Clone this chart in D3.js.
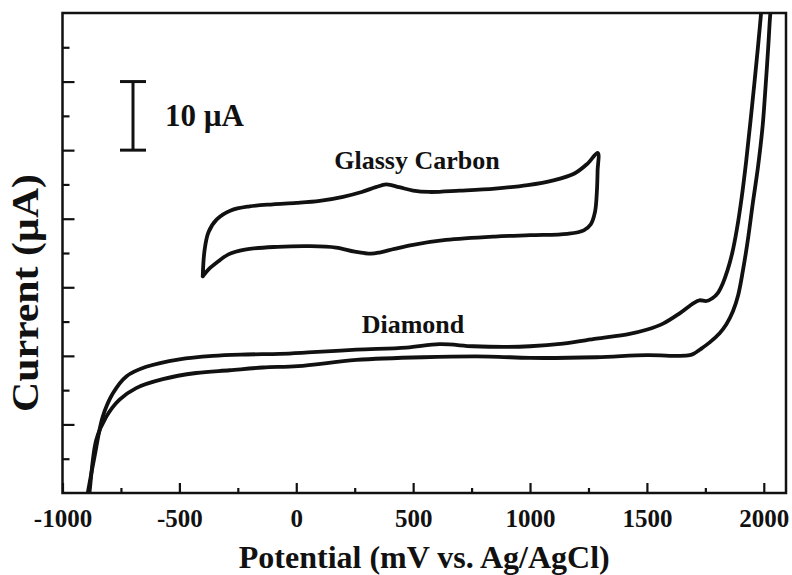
<!DOCTYPE html>
<html>
<head>
<meta charset="utf-8">
<script src="https://cdn.jsdelivr.net/npm/d3@7"></script>
<style>
  html, body { margin: 0; padding: 0; background: #fff; }
  svg { display: block; }
  text { font-family: "Liberation Serif", "Times New Roman", serif; font-weight: bold; fill: #111; }
</style>
</head>
<body>
<svg id="chart" width="792" height="575"></svg>
<script>
// Cyclic voltammograms: potential in mV vs. Ag/AgCl, current in µA (offset baseline)

// Glassy carbon: positive-going sweep, then the return sweep
const glassyForward = [
  [-400, 31.6], [-393, 35.2], [-376, 38.0], [-340, 39.9], [-280, 41.2], [-200, 41.8],
  [-100, 42.1], [0, 42.3], [100, 42.6], [200, 43.2], [280, 43.9], [340, 44.6],
  [385, 45.0], [440, 44.6], [500, 44.1], [570, 43.9], [700, 44.1], [850, 44.4],
  [990, 44.9], [1100, 45.6], [1190, 46.6], [1245, 48.0], [1290, 49.6]
];
const glassyReverse = [
  [1290, 49.6], [1289, 47.0], [1286, 44.0], [1278, 41.0], [1260, 39.2], [1230, 38.3],
  [1160, 37.8], [1000, 37.6], [850, 37.4], [640, 36.9], [500, 36.2], [420, 35.6],
  [360, 35.1], [320, 34.9], [250, 35.2], [170, 35.8], [60, 36.0], [-80, 35.9],
  [-220, 35.5], [-290, 34.8], [-340, 33.6], [-375, 32.6], [-400, 31.6]
];

// Boron-doped diamond: wide window, off-scale at both ends
const diamondForward = [
  [-897, -1], [-892, 0], [-863, 5.3], [-828, 11.1], [-785, 14.5], [-727, 17.0],
  [-642, 18.4], [-500, 19.5], [-357, 20.0], [-214, 20.2], [-71, 20.3], [50, 20.5],
  [257, 20.9], [471, 21.2], [613, 21.7], [756, 21.4], [900, 21.3], [1000, 21.4],
  [1141, 21.8], [1284, 22.5], [1426, 23.2], [1498, 23.8], [1569, 24.7], [1640, 26.2],
  [1700, 27.7], [1725, 28.1], [1755, 28.0], [1780, 28.4], [1804, 29.2], [1825, 30.6],
  [1845, 32.5], [1865, 35.0], [1885, 38.5], [1905, 43.0], [1925, 48.5], [1950, 56.5],
  [1975, 65.0], [1995, 72.5]
];
const diamondReverse = [
  [2035, 72.5], [2028, 70.0], [2018, 64.5], [2005, 58.0], [1995, 53.5], [1975, 47.5],
  [1954, 42.5], [1930, 36.5], [1911, 32.5], [1890, 28.8], [1868, 26.5], [1840, 24.6],
  [1811, 23.3], [1770, 22.0], [1726, 20.9], [1700, 20.3], [1683, 20.1], [1640, 20.0],
  [1500, 20.1], [1284, 19.8], [1000, 19.7], [827, 19.9], [542, 19.8], [257, 19.4],
  [7, 18.5], [-143, 18.3], [-285, 17.9], [-428, 17.5], [-571, 16.6], [-685, 15.3],
  [-756, 13.6], [-813, 11.1], [-856, 7.7], [-885, 0], [-890, -1]
];

const xMajorTicks = [-1000, -500, 0, 500, 1000, 1500, 2000];
const xMinorTicks = [-750, -250, 250, 750, 1250, 1750];
const yMajorTicks = [10, 20, 30, 40, 50, 60];
const yMinorTicks = [5, 15, 25, 35, 45, 55, 65];
const scaleBar = [50, 60];           // 10 µA reference bar
const scaleBarLabel = "10 µA";
const xTitle = "Potential (mV vs. Ag/AgCl)";
const yTitle = "Current (µA)";

const svg = d3.select("#chart");
const plot = { left: 62.5, right: 786, top: 13, bottom: 493 };

const x = d3.scaleLinear().domain([-1000, 2095]).range([plot.left, plot.right]);
const y = d3.scaleLinear().domain([0, 70]).range([plot.bottom, plot.top]);

svg.append("defs").append("clipPath").attr("id", "clip")
  .append("rect")
  .attr("x", plot.left).attr("y", plot.top)
  .attr("width", plot.right - plot.left).attr("height", plot.bottom - plot.top);

const ink = "#111";

// Axes with inward ticks
function styleAxis(g) {
  g.select(".domain").remove();
  g.selectAll("line").attr("stroke", ink).attr("stroke-width", 2.2);
  g.selectAll("text").attr("font-family", null).attr("fill", ink);
}

svg.append("g")
  .attr("transform", `translate(0,${plot.bottom})`)
  .call(d3.axisBottom(x).tickValues(xMajorTicks).tickSize(-10).tickPadding(16)
    .tickFormat(d => String(d)))
  .call(styleAxis)
  .call(g => g.selectAll("text").attr("font-size", 25).style("font-size", "25px"));

svg.append("g")
  .attr("transform", `translate(0,${plot.bottom})`)
  .call(d3.axisBottom(x).tickValues(xMinorTicks).tickSize(-5).tickFormat(""))
  .call(styleAxis);

svg.append("g")
  .attr("transform", `translate(${plot.left},0)`)
  .call(d3.axisLeft(y).tickValues(yMajorTicks).tickSize(-12).tickFormat(""))
  .call(styleAxis);

svg.append("g")
  .attr("transform", `translate(${plot.left},0)`)
  .call(d3.axisLeft(y).tickValues(yMinorTicks).tickSize(-7).tickFormat(""))
  .call(styleAxis);

// Frame
svg.append("rect")
  .attr("x", plot.left).attr("y", plot.top)
  .attr("width", plot.right - plot.left).attr("height", plot.bottom - plot.top)
  .attr("fill", "none").attr("stroke", ink).attr("stroke-width", 2.5);

// Curves
const line = d3.line()
  .x(d => x(d[0])).y(d => y(d[1]))
  .curve(d3.curveCatmullRom.alpha(0.5));

const curves = svg.append("g").attr("clip-path", "url(#clip)")
  .attr("fill", "none").attr("stroke", ink)
  .attr("stroke-width", 3.8).attr("stroke-linejoin", "round").attr("stroke-linecap", "round");

curves.append("path").attr("d", line(glassyForward.concat(glassyReverse.slice(1))));
curves.append("path").attr("d", line(diamondForward));
curves.append("path").attr("d", line(diamondReverse));

// Scale bar
const barX = 133;
const bar = svg.append("g").attr("stroke", ink).attr("stroke-width", 3);
bar.append("line").attr("x1", barX).attr("x2", barX)
  .attr("y1", y(scaleBar[0])).attr("y2", y(scaleBar[1]));
bar.append("line").attr("x1", barX - 13).attr("x2", barX + 13)
  .attr("y1", y(scaleBar[0])).attr("y2", y(scaleBar[0]));
bar.append("line").attr("x1", barX - 13).attr("x2", barX + 13)
  .attr("y1", y(scaleBar[1])).attr("y2", y(scaleBar[1]));
svg.append("text").attr("x", 165).attr("y", 126)
  .attr("font-size", 31).text(scaleBarLabel);

// Curve labels
svg.append("text").attr("x", 417).attr("y", 169).attr("text-anchor", "middle")
  .attr("font-size", 26).text("Glassy Carbon");
svg.append("text").attr("x", 413).attr("y", 333).attr("text-anchor", "middle")
  .attr("font-size", 26).text("Diamond");

// Axis titles
svg.append("text").attr("x", (plot.left + plot.right) / 2).attr("y", 568)
  .attr("text-anchor", "middle").attr("font-size", 32).text(xTitle);
svg.append("text")
  .attr("transform", "translate(38,293) rotate(-90)")
  .attr("text-anchor", "middle").attr("font-size", 37)
  .attr("textLength", 238).attr("lengthAdjust", "spacingAndGlyphs")
  .text(yTitle);
</script>
</body>
</html>
